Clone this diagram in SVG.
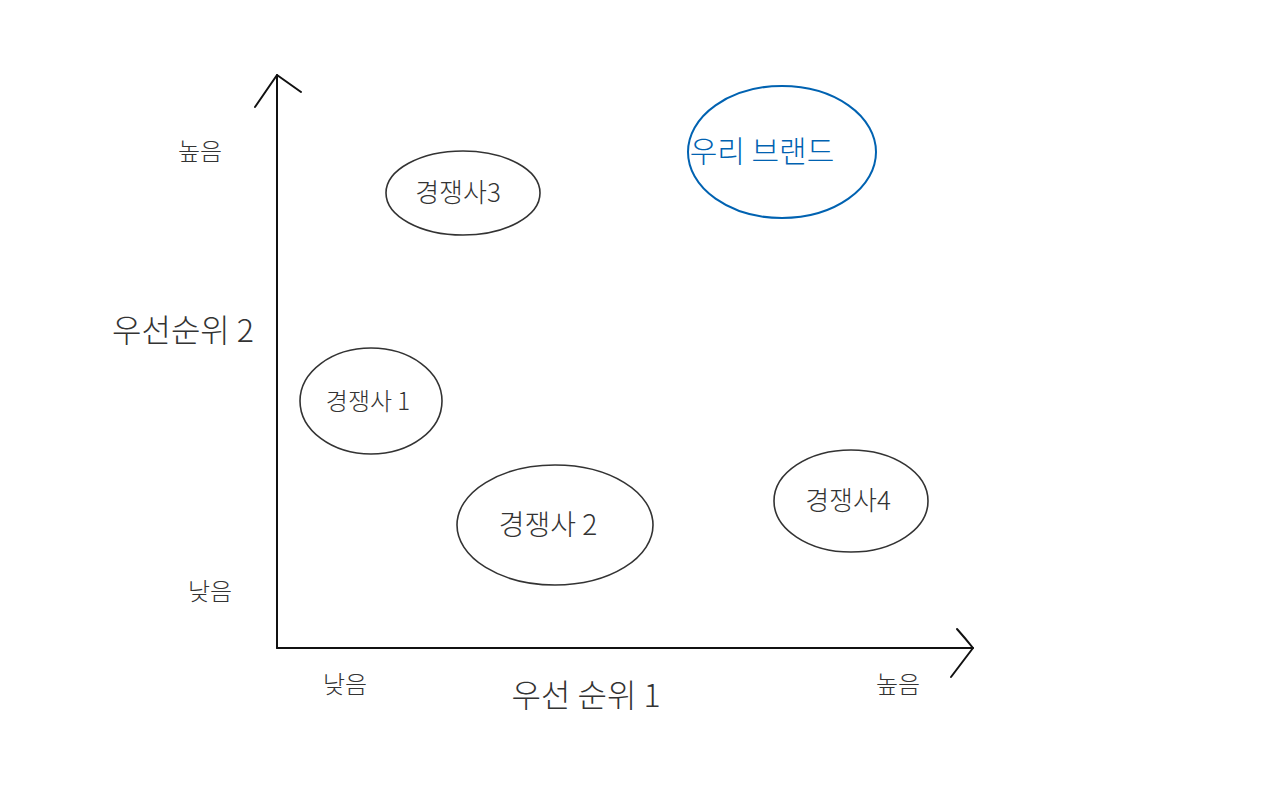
<svg xmlns="http://www.w3.org/2000/svg" width="1280" height="800" viewBox="0 0 1280 800">
<style>
.n{fill:none;stroke:#333;stroke-width:1.6}
.b{fill:none;stroke:#0062B1;stroke-width:2}
.t{font-family:"Noto Sans CJK KR","Noto Sans",sans-serif;fill:#333;text-anchor:middle;font-weight:300}
.ax{fill:none;stroke:#111;stroke-width:2;stroke-linecap:round;stroke-linejoin:round}
</style>
<rect width="1280" height="800" fill="#fff"/>
<g id="connectors">
<path class="ax" d="M277,648 L277,75"/>
<path class="ax" d="M255,107 L277,75 L301,92"/>
<path class="ax" d="M277,648 L973,648"/>
<path class="ax" d="M957,629 Q965,638 973,648 L951,677"/>
</g>
<g id="labels">
<text class="t" x="200" y="160" font-size="24">높음</text>
<text class="t" x="183" y="342" font-size="32">우선순위 2</text>
<text class="t" x="210" y="600" font-size="24">낮음</text>
<text class="t" x="345" y="693" font-size="24">낮음</text>
<text class="t" x="586" y="707" font-size="32">우선 순위 1</text>
<text class="t" x="898" y="693" font-size="24">높음</text>
</g>
<g id="brand">
<ellipse class="b" cx="782" cy="152" rx="94" ry="66"/>
<text class="t" x="762" y="162" font-size="30" style="fill:#0062B1">우리 브랜드</text>
</g>
<g id="comp3">
<ellipse class="n" cx="463" cy="193" rx="77" ry="42"/>
<text class="t" x="458" y="202" font-size="26">경쟁사3</text>
</g>
<g id="comp1">
<ellipse class="n" cx="371" cy="401" rx="71" ry="53"/>
<text class="t" x="368" y="410" font-size="24">경쟁사 1</text>
</g>
<g id="comp2">
<ellipse class="n" cx="555" cy="525" rx="98" ry="60"/>
<text class="t" x="548" y="535" font-size="28">경쟁사 2</text>
</g>
<g id="comp4">
<ellipse class="n" cx="851" cy="501" rx="77" ry="51"/>
<text class="t" x="848" y="510" font-size="26">경쟁사4</text>
</g>
</svg>
